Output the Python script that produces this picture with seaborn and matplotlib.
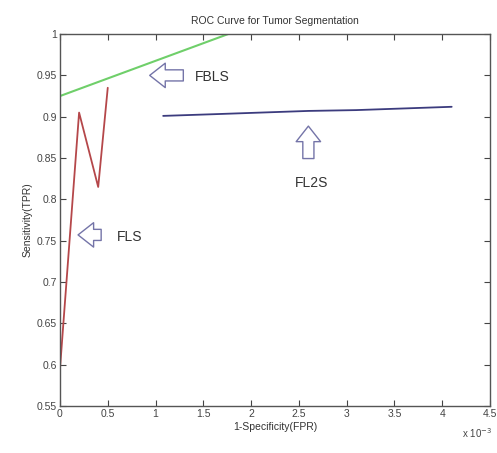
import pandas as pd
import matplotlib
matplotlib.use("Agg")
import matplotlib.pyplot as plt
import seaborn as sns

# dados (FPR em unidades de 10^-3)
fls_fpr = [0.0, 0.2, 0.4, 0.5]
fls_tpr = [0.595, 0.905, 0.815, 0.935]

fbls_fpr = [0.0, 1.76]
fbls_tpr = [0.925, 1.0]

fl2s_fpr = [1.08, 1.6, 2.1, 2.6, 3.1, 3.6, 4.1]
fl2s_tpr = [0.901, 0.903, 0.905, 0.907, 0.908, 0.910, 0.912]

x_ticks = [0, 0.5, 1, 1.5, 2, 2.5, 3, 3.5, 4, 4.5]
x_labels = ['0', '0.5', '1', '1.5', '2', '2.5', '3', '3.5', '4', '4.5']
y_ticks = [0.55, 0.6, 0.65, 0.7, 0.75, 0.8, 0.85, 0.9, 0.95, 1.0]
y_labels = ['0.55', '0.6', '0.65', '0.7', '0.75', '0.8', '0.85', '0.9', '0.95', '1']

sns.set_theme(style="white")
plt.rcParams['font.family'] = ['Liberation Sans', 'DejaVu Sans']
plt.rcParams['xtick.direction'] = 'in'
plt.rcParams['ytick.direction'] = 'in'

fig = plt.figure(figsize=(4.97, 4.53), dpi=100)
ax = fig.add_axes([0.1207, 0.1038, 0.865, 0.821])

df_fls = pd.DataFrame({'fpr': fls_fpr, 'tpr': fls_tpr})
df_fbls = pd.DataFrame({'fpr': fbls_fpr, 'tpr': fbls_tpr})
df_fl2s = pd.DataFrame({'fpr': fl2s_fpr, 'tpr': fl2s_tpr})

sns.lineplot(data=df_fls, x='fpr', y='tpr', ax=ax, color='#b5474a', linewidth=1.3, sort=False)
sns.lineplot(data=df_fbls, x='fpr', y='tpr', ax=ax, color='#6fcf6a', linewidth=1.5, sort=False)
sns.lineplot(data=df_fl2s, x='fpr', y='tpr', ax=ax, color='#3c3c7e', linewidth=1.3, sort=False)

ax.set_xlim(0, 4.5)
ax.set_ylim(0.55, 1.0)
ax.set_xticks(x_ticks)
ax.set_xticklabels(x_labels)
ax.set_yticks(y_ticks)
ax.set_yticklabels(y_labels)
ax.tick_params(axis='both', labelsize=7.5, colors='#444444', length=4, width=0.8,
               top=True, right=True, bottom=True, left=True, pad=2)
for s in ax.spines.values():
    s.set_color('#555555')
    s.set_linewidth(1.0)

ax.set_title('ROC Curve for Tumor Segmentation', fontsize=7.5, color='#333333', pad=7)
ax.set_xlabel('1-Specificity(FPR)', fontsize=7.5, color='#333333', labelpad=2)
ax.set_ylabel('Sensitivity(TPR)', fontsize=7.5, color='#333333', labelpad=3)
ax.text(4.52, 0.517, r'x 10$^{-3}$', fontsize=7, color='#444444', ha='right', va='center')

# setas vazadas
seta = dict(arrowstyle='simple,head_length=0.7,head_width=1.1,tail_width=0.5',
            fc='white', ec='#7474a8', lw=1.0, mutation_scale=16)
ax.annotate('', xy=(0.91, 0.95), xytext=(1.32, 0.95), arrowprops=seta)
ax.annotate('', xy=(0.16, 0.757), xytext=(0.46, 0.757), arrowprops=seta)
ax.annotate('', xy=(2.6, 0.892), xytext=(2.6, 0.846), arrowprops=seta)

ax.text(1.41, 0.948, 'FBLS', fontsize=10, color='#333333', va='center', ha='left')
ax.text(0.6, 0.754, 'FLS', fontsize=10, color='#333333', va='center', ha='left')
ax.text(2.63, 0.82, 'FL2S', fontsize=10, color='#333333', va='center', ha='center')

plt.savefig('out.png', dpi=100)
